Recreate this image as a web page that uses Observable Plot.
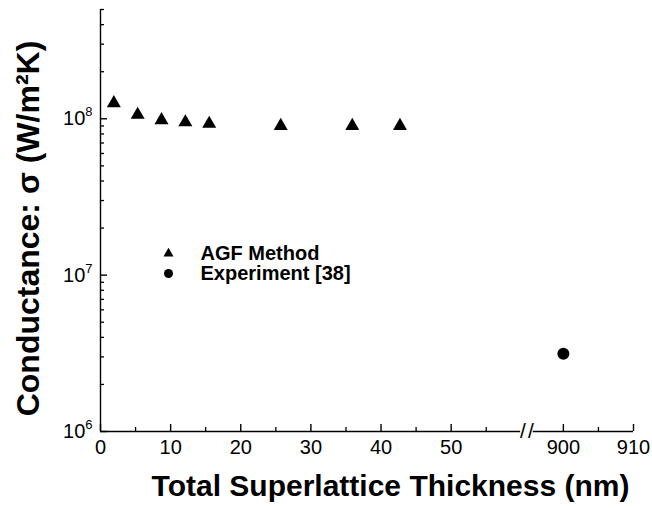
<!DOCTYPE html>
<html><head><meta charset="utf-8">
<script src="https://cdn.jsdelivr.net/npm/d3@7"></script>
<script src="https://cdn.jsdelivr.net/npm/@observablehq/plot@0.6"></script>
<style>
body{margin:0;background:#fff;}
#chart svg{display:block;}
</style></head><body><div id="chart"></div>
<script>
// ---- data ----
const agfThickness = [1.9, 5.3, 8.7, 12.1, 15.5, 25.7, 35.9, 42.7];
const agfConductance = [1.26e8, 1.06e8, 0.98e8, 0.95e8, 0.93e8, 0.90e8, 0.90e8, 0.90e8];
const expThickness = [900];
const expConductance = [3.14e6];
const xTicks = [0, 10, 20, 30, 40, 50, 900, 910];
const xMinorTicks = [5, 15, 25, 35, 45, 55, 905];
const yTicks = [1e6, 1e7, 1e8];
const yMinorTicks = [2e6, 3e6, 4e6, 5e6, 6e6, 7e6, 8e6, 9e6,
                     2e7, 3e7, 4e7, 5e7, 6e7, 7e7, 8e7, 9e7,
                     2e8, 3e8, 4e8, 5e8];
const legendLabels = ["AGF Method", "Experiment [38]"];
const xTitle = "Total Superlattice Thickness (nm)";
const yTitle = "Conductance: σ (W/m²K)";

// ---- layout ----
const W = 652, H = 508, mL = 100, mR = 19, mT = 9, mB = 77;
const frameW = W - mL - mR, frameH = H - mT - mB;

// ---- broken x axis ----
const breakOffset = 834;            // 900 is drawn at 66 on the compressed axis
const compress = v => v > 200 ? v - breakOffset : v;
const expand = v => v > 61 ? v + breakOffset : v;
const xDomain = [0, 76];
const segLeftEnd = 59.9, segRightStart = 61.7, breakMid = 60.8;
const yDomain = [1e6, 5e8];

const agf = agfThickness.map((x, i) => ({x, y: agfConductance[i]}));
const exp = expThickness.map((x, i) => ({x, y: expConductance[i]}));

const font = "'Liberation Sans', Arial, Helvetica, sans-serif";
const majorLen = 7, minorLen = 4;

const chart = Plot.plot({
  width: W, height: H,
  marginLeft: mL, marginRight: mR, marginTop: mT, marginBottom: mB,
  style: {fontFamily: font, color: "black", background: "white"},
  x: {domain: xDomain},
  y: {type: "log", domain: yDomain},
  marks: [
    // axis lines
    Plot.ruleX([xDomain[0]], {y1: yDomain[0], y2: yDomain[1], stroke: "black", strokeWidth: 1.4}),
    Plot.ruleY([yDomain[0]], {x1: xDomain[0], x2: segLeftEnd, stroke: "black", strokeWidth: 1.4}),
    Plot.ruleY([yDomain[0]], {x1: segRightStart, x2: xDomain[1], stroke: "black", strokeWidth: 1.4}),
    // break marks
    Plot.text([breakMid], {x: d => d, y: yDomain[0], text: () => "/", dx: -4, fontSize: 21, lineAnchor: "middle"}),
    Plot.text([breakMid], {x: d => d, y: yDomain[0], text: () => "/", dx: 4, fontSize: 21, lineAnchor: "middle"}),
    // inward ticks
    Plot.tickY(yTicks, {y: d => d, insetRight: frameW - majorLen, stroke: "black", strokeWidth: 1.4}),
    Plot.tickY(yMinorTicks, {y: d => d, insetRight: frameW - minorLen, stroke: "black", strokeWidth: 1.3}),
    Plot.tickX(xTicks, {x: compress, insetTop: frameH - majorLen, stroke: "black", strokeWidth: 1.4}),
    Plot.tickX(xMinorTicks, {x: compress, insetTop: frameH - minorLen, stroke: "black", strokeWidth: 1.3}),
    // tick labels
    Plot.axisX({ticks: xTicks.map(compress), tickSize: 0, tickPadding: 8, tickFormat: expand, fontSize: 20, label: null}),
    Plot.axisY({ticks: yTicks, tickSize: 0, tickPadding: 8, tickFormat: d => "10^" + Math.round(Math.log10(d)), fontSize: 20, label: null}),
    // data
    Plot.dot(agf, {x: d => compress(d.x), y: "y", symbol: "triangle", r: 5.2, fill: "black", stroke: "none"}),
    Plot.dot(exp, {x: d => compress(d.x), y: "y", symbol: "circle", r: 6, fill: "black", stroke: "none"}),
    // legend
    Plot.dot([legendLabels[0]], {frameAnchor: "top-left", dx: 68, dy: 244, symbol: "triangle", r: 3.7, fill: "black", stroke: "none"}),
    Plot.dot([legendLabels[1]], {frameAnchor: "top-left", dx: 68, dy: 264, symbol: "circle", r: 4.5, fill: "black", stroke: "none"}),
    Plot.text([legendLabels[0]], {frameAnchor: "top-left", dx: 100, dy: 244, text: d => d, textAnchor: "start", lineAnchor: "middle", fontSize: 20, fontWeight: "bold"}),
    Plot.text([legendLabels[1]], {frameAnchor: "top-left", dx: 100, dy: 264, text: d => d, textAnchor: "start", lineAnchor: "middle", fontSize: 20, fontWeight: "bold"}),
    // titles
    Plot.text([xTitle], {frameAnchor: "bottom", dx: 23.5, dy: 54.4, text: d => d, textAnchor: "middle", lineAnchor: "middle", fontSize: 30, fontWeight: "bold"}),
    Plot.text([yTitle], {frameAnchor: "left", dx: -72, dy: 8, rotate: -90, text: d => d, textAnchor: "middle", lineAnchor: "middle", fontSize: 32, fontWeight: "bold"})
  ]
});

// superscript exponents on y tick labels
const svgNS = "http://www.w3.org/2000/svg";
chart.querySelectorAll('g[aria-label="y-axis tick label"] text').forEach(t => {
  const parts = t.textContent.split("^");
  if (parts.length !== 2) return;
  t.textContent = parts[0];
  const ts = document.createElementNS(svgNS, "tspan");
  ts.setAttribute("dy", "-9");
  ts.setAttribute("font-size", "13");
  ts.textContent = parts[1];
  t.appendChild(ts);
});
document.getElementById("chart").appendChild(chart);
</script>
</body></html>
